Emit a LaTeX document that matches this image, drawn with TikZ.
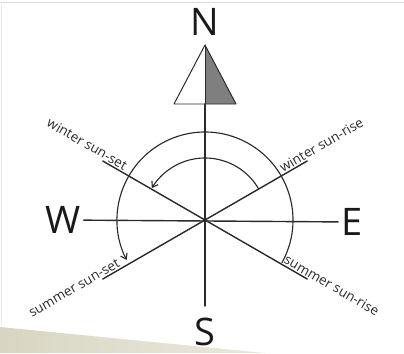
\documentclass[tikz,border=0pt]{standalone}
\usepackage{fontspec}
\setmainfont{Open Sans}
\usetikzlibrary{arrows.meta}
\definecolor{inkgray}{HTML}{2A2A2A}
\definecolor{halfgray}{HTML}{7F7F7F}
\definecolor{khaki}{HTML}{D8D6C2}
\begin{document}
\begin{tikzpicture}[line join=round, line cap=round, >={Straight Barb[angle=70:4.5pt]},
	axis/.style={draw=inkgray, line width=1pt},
	sunlbl/.style={font=\fontsize{9.6}{11}\selectfont, text=inkgray, inner sep=1.2pt, anchor=south},
	dirlbl/.style={font=\fontsize{27}{30}\selectfont, text=black!90, inner sep=2pt}]
	\useasboundingbox (-5.125,-3.325) rectangle (4.975,5.5);
	
	% Background
	\shade[left color=khaki, right color=khaki!55] (-5.125,-2.675) -- (1.5,-3.325) -- (-5.125,-3.325) -- cycle;
	\draw[black!15, line width=0.7pt] (-5.125,5.45) -- (4.975,5.45);
	\draw[black!8, line width=0.7pt] (-5.08,5.45) -- (-5.08,-2.6);
	
	% Points of the compass
	\coordinate (O) at (0,0);
	\coordinate (south) at (0,-2.15);
	\coordinate (base) at (0,2.9);
	\coordinate (apex) at (0,4.375);
	\coordinate (bl) at (-0.775,2.9);
	\coordinate (br) at (0.775,2.9);
	\coordinate (wrise) at (30:2.95);
	\coordinate (wset) at (150:2.95);
	\coordinate (sset) at (210:2.95);
	\coordinate (srise) at (-30:2.95);
	
	\node[dirlbl] (N) at (0,4.95) {N};
	\node[dirlbl] (S) at (0,-2.8) {S};
	\node[dirlbl] (W) at (-3.55,0) {W};
	\node[dirlbl] (E) at (3.67,-0.05) {E};
	
	% North arrow
	\fill[halfgray] (apex) -- (base) -- (br) -- cycle;
	\draw[inkgray, line width=0.7pt] (apex) -- (bl) -- (br) -- cycle;
	\draw[inkgray, line width=0.7pt] (apex) -- (base);
	
	% Axes and sun directions
	\draw[axis] (W) -- (E);
	\draw[axis] (base) -- (south);
	\draw[axis] (sset) -- (wrise);
	\draw[axis] (wset) -- (srise);
	
	% Sun paths
	\draw[axis, line width=0.8pt, ->] (-29:2.2) arc[start angle=-29, end angle=207, radius=2.2];
	\draw[axis, line width=0.8pt, ->] (30:1.55) arc[start angle=30, end angle=149, radius=1.55];
	
	\node[sunlbl, rotate=30] (wriselbl) at (30:3.46) {winter sun-rise};
	\node[sunlbl, rotate=-30] (wsetlbl) at (150:3.5) {winter sun-set};
	\node[sunlbl, rotate=30] (ssetlbl) at (210:3.68) {summer sun-set};
	\node[sunlbl, rotate=-30] (sriselbl) at (-30:3.56) {summer sun-rise};
\end{tikzpicture}
\end{document}
